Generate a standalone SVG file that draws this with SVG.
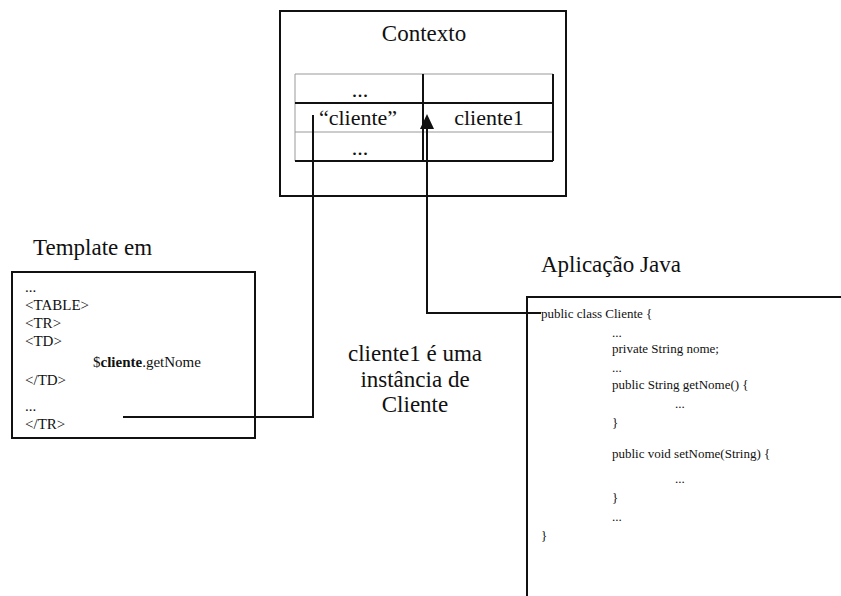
<svg xmlns="http://www.w3.org/2000/svg" width="841" height="596" viewBox="0 0 841 596">
<style>
text{font-family:"Liberation Serif","DejaVu Serif","Times New Roman",serif;fill:#111}
.big{font-size:23px}
.cell{font-size:22px}
.code{font-size:13px}
.tpl{font-size:15px}
.box{fill:#fff;stroke:#111;stroke-width:2}
.ln{stroke:#111;stroke-width:2;fill:none}
.gl{stroke:#999;stroke-width:1;fill:none}
</style>
<rect width="841" height="596" fill="#fff"/>
<g id="contexto">
<rect class="box" x="280" y="11" width="286" height="185"/>
<text class="big" x="424" y="41" text-anchor="middle" font-size="24">Contexto</text>
<line class="gl" x1="295" y1="74" x2="553" y2="74"/>
<line class="gl" x1="295" y1="74" x2="295" y2="161"/>
<line class="gl" x1="295" y1="132" x2="553" y2="132"/>
<line class="ln" x1="295" y1="103" x2="553" y2="103"/>
<line class="ln" x1="295" y1="161" x2="553" y2="161"/>
<line class="ln" x1="553" y1="74" x2="553" y2="161"/>
<line class="ln" x1="423" y1="74" x2="423" y2="161"/>
<text class="cell" x="360" y="97" text-anchor="middle">...</text>
<text class="cell" x="358" y="125" text-anchor="middle">“cliente”</text>
<text class="cell" x="489" y="125" text-anchor="middle">cliente1</text>
<text class="cell" x="360" y="155" text-anchor="middle">...</text>
</g>
<g id="template">
<text class="big" x="33" y="255">Template em</text>
<rect class="box" x="12" y="272" width="243" height="166"/>
<text class="tpl" x="25" y="292">...</text>
<text class="tpl" x="25" y="310">&lt;TABLE&gt;</text>
<text class="tpl" x="25" y="328">&lt;TR&gt;</text>
<text class="tpl" x="25" y="346">&lt;TD&gt;</text>
<text class="tpl" x="93" y="367" font-size="15.5">$<tspan font-weight="bold">cliente</tspan>.getNome</text>
<text class="tpl" x="25" y="385">&lt;/TD&gt;</text>
<text class="tpl" x="25" y="411" font-size="18">...</text>
<text class="tpl" x="25" y="429">&lt;/TR&gt;</text>
</g>
<g id="java">
<text class="big" x="541" y="272">Aplicação Java</text>
<polyline class="ln" points="841,297 527,297 527,596"/>
<text class="code" x="541" y="318">public class Cliente {</text>
<text class="code" x="612" y="337">...</text>
<text class="code" x="612" y="353">private String nome;</text>
<text class="code" x="612" y="372">...</text>
<text class="code" x="612" y="389">public String getNome() {</text>
<text class="code" x="675" y="408">...</text>
<text class="code" x="612" y="427">}</text>
<text class="code" x="612" y="458">public void setNome(String) {</text>
<text class="code" x="675" y="483">...</text>
<text class="code" x="612" y="502">}</text>
<text class="code" x="612" y="521">...</text>
<text class="code" x="541" y="540">}</text>
</g>
<g id="nota">
<text class="big" x="415" y="361" text-anchor="middle" font-size="24">cliente1 é uma</text>
<text class="big" x="415" y="387" text-anchor="middle" font-size="24">instância de</text>
<text class="big" x="415" y="412" text-anchor="middle" font-size="24">Cliente</text>
</g>
<g id="connectors">
<polyline class="ln" points="123,417 313,417 313,115"/>
<polyline class="ln" points="541,313 427,313 427,128"/>
<path d="M427,114 L420,129 L434,129 Z" fill="#111"/>
</g>
</svg>
